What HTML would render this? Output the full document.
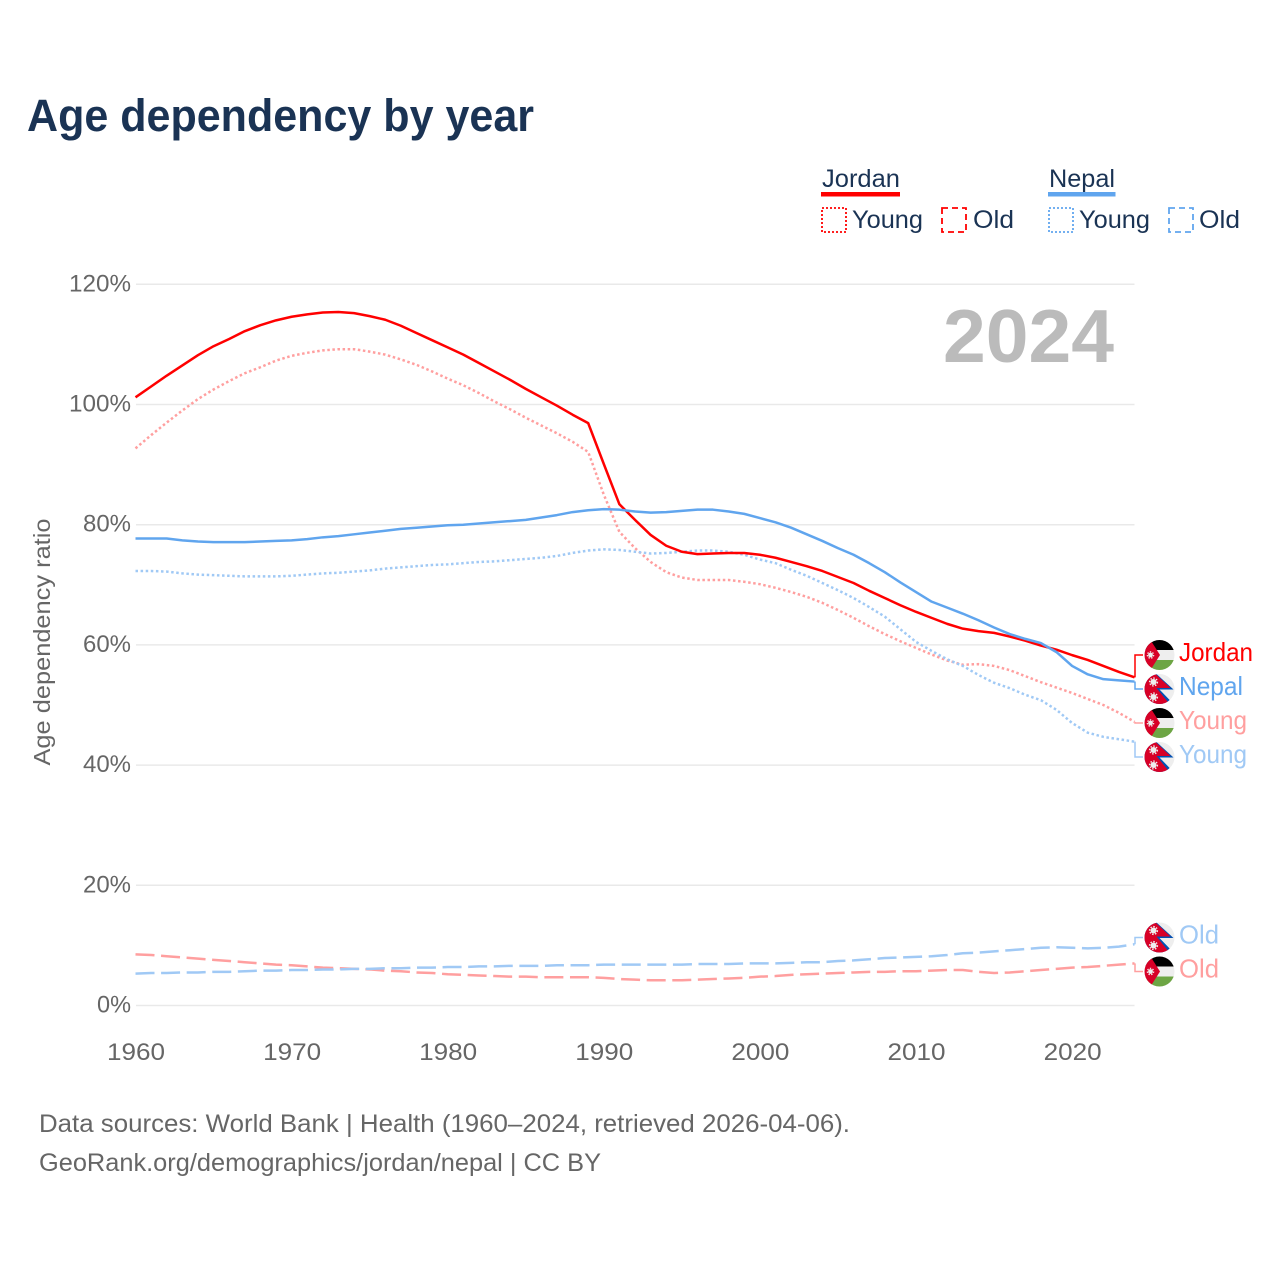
<!DOCTYPE html>
<html lang="en">
<head>
<meta charset="utf-8">
<title>Age dependency by year</title>
<style>
html,body{margin:0;padding:0;background:#fff;width:1280px;height:1280px;overflow:hidden}
svg{display:block}
text{font-family:"Liberation Sans",sans-serif}
</style>
</head>
<body>
<svg id="chart" xmlns="http://www.w3.org/2000/svg" width="1280" height="1280" viewBox="0 0 1280 1280">
<defs>
<clipPath id="flag-clip"><circle cx="0" cy="0" r="15"/></clipPath>
<g id="flag-jordan" clip-path="url(#flag-clip)">
<rect x="-15" y="-15" width="30" height="30" fill="#eeeeee"/>
<rect x="-15" y="-15" width="30" height="10" fill="#000000"/>
<rect x="-15" y="5" width="30" height="10" fill="#6da544"/>
<polygon points="-15,-15 -9,-15 0.5,0 -9,15 -15,15" fill="#d80027"/>
<circle cx="-9" cy="0" r="2.4" fill="#eeeeee"/>
<circle cx="-9" cy="0" r="3.2" fill="none" stroke="#eeeeee" stroke-width="1.2" stroke-dasharray="1.4 1.4"/>
</g>
<g id="flag-nepal" clip-path="url(#flag-clip)">
<rect x="-15" y="-15" width="30" height="30" fill="#eeeeee"/>
<polygon points="-15,-15 -3,-15 14,0.5 0,0.5 14,15 -15,15" fill="#0052b4"/>
<polygon points="-15,-15 -4,-15 11,-1 -3,-1 10,15 -15,15" fill="#d80027"/>
<circle cx="-6" cy="-7" r="3" fill="#eeeeee"/>
<circle cx="-6" cy="-7" r="3.9" fill="none" stroke="#eeeeee" stroke-width="1.4" stroke-dasharray="1.5 1.5"/>
<circle cx="-6" cy="8" r="3" fill="#eeeeee"/>
<circle cx="-6" cy="8" r="3.9" fill="none" stroke="#eeeeee" stroke-width="1.4" stroke-dasharray="1.5 1.5"/>
</g>
</defs>

<text x="27" y="131" font-size="45" font-weight="700" fill="#1a3354" textLength="507" lengthAdjust="spacingAndGlyphs">Age dependency by year</text>

<g id="grid"></g>
<g id="y-ticks"></g>
<g id="x-ticks"></g>

<text x="1114" y="362" text-anchor="end" font-size="75" font-weight="700" fill="#bbbbbb" textLength="171" lengthAdjust="spacingAndGlyphs">2024</text>

<text transform="translate(50,642) rotate(-90)" text-anchor="middle" font-size="23" fill="#666666" textLength="247" lengthAdjust="spacingAndGlyphs">Age dependency ratio</text>

<g id="series"></g>
<g id="end-labels"></g>

<g>
<text x="822" y="187" font-size="25" fill="#1a3354" textLength="78" lengthAdjust="spacingAndGlyphs">Jordan</text>
<rect x="821" y="192" width="79" height="4.5" fill="#ff0000"/>
<rect x="822" y="208" width="24" height="24" fill="none" stroke="#ff0000" stroke-width="1.8" stroke-dasharray="2 2"/>
<text x="852" y="228" font-size="25" fill="#1a3354" textLength="71" lengthAdjust="spacingAndGlyphs">Young</text>
<rect x="942" y="208" width="24" height="24" fill="none" stroke="#ff0000" stroke-width="1.8" stroke-dasharray="6 4"/>
<text x="973" y="228" font-size="25" fill="#1a3354" textLength="41" lengthAdjust="spacingAndGlyphs">Old</text>
<text x="1049" y="187" font-size="25" fill="#1a3354" textLength="66" lengthAdjust="spacingAndGlyphs">Nepal</text>
<rect x="1048" y="192" width="67.5" height="4.5" fill="#60a5ee"/>
<rect x="1049" y="208" width="24" height="24" fill="none" stroke="#60a5ee" stroke-width="1.8" stroke-dasharray="2 2"/>
<text x="1079" y="228" font-size="25" fill="#1a3354" textLength="71" lengthAdjust="spacingAndGlyphs">Young</text>
<rect x="1169" y="208" width="24" height="24" fill="none" stroke="#60a5ee" stroke-width="1.8" stroke-dasharray="6 4"/>
<text x="1199" y="228" font-size="25" fill="#1a3354" textLength="41" lengthAdjust="spacingAndGlyphs">Old</text>
</g>

<text x="39" y="1132" font-size="25" fill="#666666" textLength="811" lengthAdjust="spacingAndGlyphs">Data sources: World Bank | Health (1960–2024, retrieved 2026-04-06).</text>
<text x="39" y="1171" font-size="25" fill="#666666" textLength="562" lengthAdjust="spacingAndGlyphs">GeoRank.org/demographics/jordan/nepal | CC BY</text>
</svg>

<script>
const startYear = 1960;
const yTickValues = [0, 20, 40, 60, 80, 100, 120];
const xTickValues = [1960, 1970, 1980, 1990, 2000, 2010, 2020];

const jordanTotal = [
101.2,103.0,104.8,106.5,108.2,109.7,110.9,112.2,113.2,114.0,
114.6,115.0,115.3,115.4,115.2,114.7,114.1,113.1,111.9,110.7,
109.5,108.3,106.9,105.5,104.1,102.6,101.2,99.8,98.3,96.9,
90.1,83.4,80.8,78.3,76.5,75.5,75.1,75.2,75.3,75.3,
75.0,74.5,73.8,73.1,72.3,71.3,70.3,69.0,67.8,66.6,
65.5,64.5,63.5,62.7,62.3,62.0,61.4,60.7,59.9,59.2,
58.3,57.5,56.5,55.5,54.6];

const jordanYoung = [
92.7,94.9,97.0,99.0,100.9,102.5,103.9,105.2,106.2,107.3,
108.1,108.6,109.0,109.2,109.2,108.8,108.3,107.5,106.6,105.5,
104.3,103.2,101.9,100.5,99.2,97.8,96.5,95.2,93.8,92.1,
85.0,78.8,76.1,73.8,72.1,71.2,70.8,70.8,70.8,70.5,
70.1,69.5,68.8,68.0,67.0,65.8,64.5,63.1,61.8,60.6,
59.5,58.4,57.4,56.7,56.8,56.5,55.8,54.8,53.8,52.9,
52.0,51.0,50.0,48.7,47.2];

const jordanOld = [
8.5,8.4,8.2,8.0,7.8,7.6,7.4,7.2,7.0,6.8,
6.7,6.5,6.3,6.2,6.1,6.0,5.8,5.7,5.5,5.4,
5.2,5.1,5.0,4.9,4.8,4.8,4.7,4.7,4.7,4.7,
4.6,4.4,4.3,4.2,4.2,4.2,4.3,4.4,4.5,4.6,
4.8,4.9,5.1,5.2,5.3,5.4,5.5,5.6,5.6,5.7,
5.7,5.8,5.9,5.9,5.6,5.4,5.5,5.7,5.9,6.1,
6.3,6.4,6.6,6.8,7.0];

const nepalTotal = [
77.7,77.7,77.7,77.4,77.2,77.1,77.1,77.1,77.2,77.3,
77.4,77.6,77.9,78.1,78.4,78.7,79.0,79.3,79.5,79.7,
79.9,80.0,80.2,80.4,80.6,80.8,81.2,81.6,82.1,82.4,
82.6,82.5,82.2,82.0,82.1,82.3,82.5,82.5,82.2,81.8,
81.1,80.4,79.5,78.4,77.3,76.1,75.0,73.6,72.1,70.4,
68.8,67.2,66.2,65.2,64.1,62.9,61.8,61.0,60.3,58.8,
56.5,55.1,54.3,54.1,53.9];

const nepalYoung = [
72.3,72.3,72.2,71.9,71.7,71.6,71.5,71.4,71.4,71.4,
71.5,71.7,71.9,72.0,72.2,72.4,72.7,72.9,73.1,73.3,
73.4,73.6,73.8,73.9,74.1,74.3,74.5,74.8,75.3,75.7,
75.9,75.8,75.5,75.2,75.3,75.5,75.7,75.7,75.5,75.0,
74.2,73.6,72.5,71.5,70.3,69.1,67.8,66.3,64.7,62.6,
60.5,59.0,57.6,56.5,55.0,53.7,52.8,51.7,50.8,49.2,
47.0,45.4,44.7,44.3,43.9];

const nepalOld = [
5.3,5.4,5.4,5.5,5.5,5.6,5.6,5.7,5.8,5.8,
5.9,5.9,6.0,6.0,6.1,6.1,6.2,6.2,6.3,6.3,
6.4,6.4,6.5,6.5,6.6,6.6,6.6,6.7,6.7,6.7,
6.8,6.8,6.8,6.8,6.8,6.8,6.9,6.9,6.9,7.0,
7.0,7.0,7.1,7.2,7.2,7.4,7.5,7.7,7.9,8.0,
8.1,8.2,8.4,8.7,8.8,9.0,9.2,9.4,9.6,9.7,
9.6,9.5,9.6,9.8,10.2];

const NS = 'http://www.w3.org/2000/svg';
const xScale = year => 135.5 + (year - 1960) * 15.61;
const yScale = value => 1005.5 - value * 6.01;

function make(tag, attrs, parent) {
  const el = document.createElementNS(NS, tag);
  Object.keys(attrs).forEach(k => el.setAttribute(k, attrs[k]));
  parent.appendChild(el);
  return el;
}

const gridGroup = document.getElementById('grid');
const yTickGroup = document.getElementById('y-ticks');
const xTickGroup = document.getElementById('x-ticks');
const seriesGroup = document.getElementById('series');
const labelGroup = document.getElementById('end-labels');

yTickValues.forEach(v => {
  const line = make('line', {x1: 136, x2: 1134.5, y1: yScale(v), y2: yScale(v), stroke: '#e9e9e9', 'stroke-width': 1.5}, gridGroup);
  
  
  const label = make('text', {x: 131, y: yScale(v) + 7, 'text-anchor': 'end', 'font-size': 24, fill: '#666666', textLength: String(v).length * 14 + 20, lengthAdjust: 'spacingAndGlyphs'}, yTickGroup);
  label.textContent = v + '%';
  
  
});

xTickValues.forEach(y => {
  const label = make('text', {x: xScale(y) + 0.5, y: 1060, 'text-anchor': 'middle', 'font-size': 24, fill: '#666666', textLength: 58, lengthAdjust: 'spacingAndGlyphs'}, xTickGroup);
  label.textContent = y;
  
  
});

function pathFor(values) {
  return values.map((v, i) => (i ? 'L' : 'M') + xScale(startYear + i).toFixed(2) + ' ' + yScale(v).toFixed(2)).join(' ');
}

function drawSeries(values, color, dash) {
  const attrs = {d: pathFor(values), fill: 'none', stroke: color, 'stroke-width': 2.5, 'stroke-linejoin': 'round'};
  if (dash) attrs['stroke-dasharray'] = dash;
  return make('path', attrs, seriesGroup);
}

const s1 = drawSeries(jordanOld, '#ff9f9f', '19 6.6');


const s2 = drawSeries(nepalOld, '#a0c9f5', '19 6.6');


const s3 = drawSeries(jordanYoung, '#ff9f9f', '2.5 2.6');


const s4 = drawSeries(nepalYoung, '#a0c9f5', '2.5 2.6');


const s5 = drawSeries(jordanTotal, '#ff0000');


const s6 = drawSeries(nepalTotal, '#60a5ee');



function drawEnd(values, flag, text, color, flagY, width) {
  const endY = yScale(values[values.length - 1]);
  const conn = make('path', {d: 'M1135 ' + endY.toFixed(2) + ' V' + flagY + ' H1143', fill: 'none', stroke: color, 'stroke-width': 1.5}, labelGroup);
  
  
  const use = make('use', {href: '#' + flag, transform: 'translate(1159.5,' + flagY + ')'}, labelGroup);
  
  
  const label = make('text', {x: 1179, y: flagY + 6, 'font-size': 26, fill: color, textLength: width, lengthAdjust: 'spacingAndGlyphs'}, labelGroup);
  label.textContent = text;
  
  
}

drawEnd(jordanTotal, 'flag-jordan', 'Jordan', '#ff0000', 655, 74);
drawEnd(nepalTotal, 'flag-nepal', 'Nepal', '#60a5ee', 689, 64);
drawEnd(jordanYoung, 'flag-jordan', 'Young', '#ff9f9f', 723, 68);
drawEnd(nepalYoung, 'flag-nepal', 'Young', '#a0c9f5', 757, 68);
drawEnd(nepalOld, 'flag-nepal', 'Old', '#a0c9f5', 937.5, 40);
drawEnd(jordanOld, 'flag-jordan', 'Old', '#ff9f9f', 971.5, 40);
</script>
</body>
</html>
